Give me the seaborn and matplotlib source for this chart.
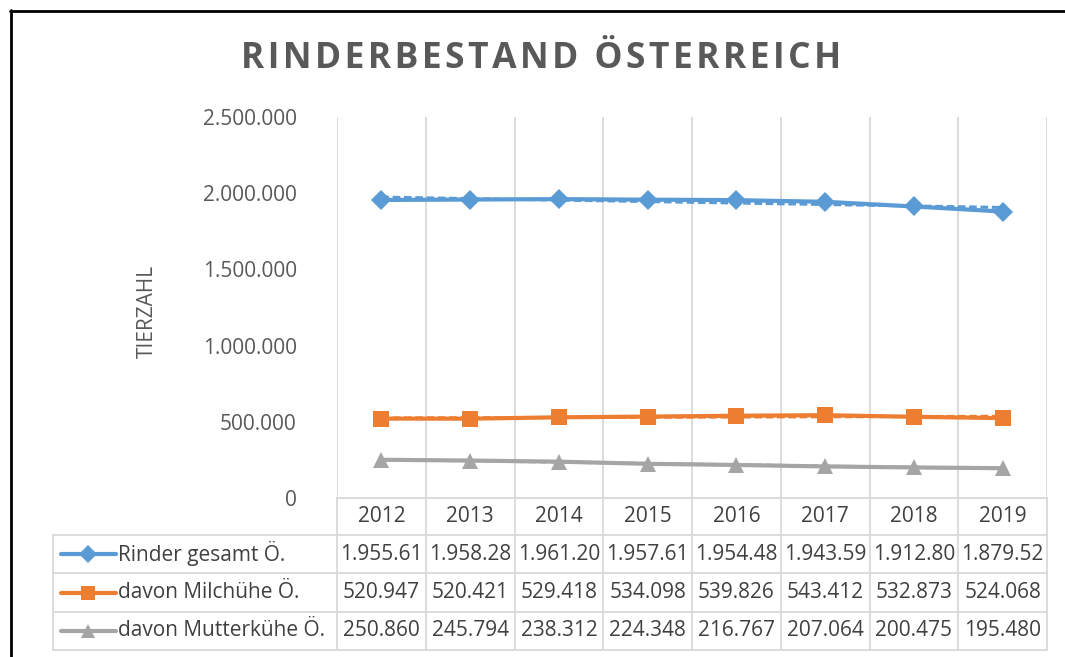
import numpy as np
import pandas as pd
import matplotlib
matplotlib.use("Agg")
import matplotlib.pyplot as plt
import matplotlib.transforms as mtransforms
from matplotlib.lines import Line2D
import seaborn as sns

# -----------------------------
# Data
# -----------------------------
years = [2012, 2013, 2014, 2015, 2016, 2017, 2018, 2019]
rinder_gesamt = [1955610, 1958280, 1961200, 1957610, 1954480, 1943590, 1912800, 1879520]
milchkuehe = [520947, 520421, 529418, 534098, 539826, 543412, 532873, 524068]
mutterkuehe = [250860, 245794, 238312, 224348, 216767, 207064, 200475, 195480]

series_names = ["Rinder gesamt Ö.", "davon Milchühe Ö.", "davon Mutterkühe Ö."]
series_values = [rinder_gesamt, milchkuehe, mutterkuehe]
series_colors = ["#5B9BD5", "#ED7D31", "#A5A5A5"]
series_markers = ["D", "s", "^"]
marker_sizes = [10, 11, 11]

y_ticks = [0, 500000, 1000000, 1500000, 2000000, 2500000]

sns.set_style("white")
plt.rcParams["font.family"] = ["Open Sans", "DejaVu Sans"]

W, H = 1065, 657
fig = plt.figure(figsize=(W / 100, H / 100), dpi=100)

def fx(px):
    return px / W

def fy(px):
    return 1 - px / H

ax = fig.add_axes([fx(337), fy(498), fx(1047) - fx(337), fy(117) - fy(498)])

grid_c = "#D9D9D9"
text_c = "#595959"
cell_c = "#404040"

# vertical gridlines at category borders
for b in np.arange(years[0] - 0.5, years[-1] + 1, 1.0):
    ax.axvline(b, color=grid_c, lw=1.3, zorder=0)

# -----------------------------
# Lines + linear trend lines
# -----------------------------
x = np.array(years, dtype=float)
for name, vals, col, mk, ms in zip(series_names, series_values, series_colors,
                                   series_markers, marker_sizes):
    k, d = np.polyfit(x, vals, 1)
    ax.plot(x, k * x + d, color=col, lw=2.2, ls=(0, (2.5, 1.2)), zorder=2)
    sns.lineplot(x=x, y=vals, ax=ax, color=col, lw=3, marker=mk, markersize=ms,
                 markeredgewidth=0, zorder=3)

ax.set_xlim(years[0] - 0.5, years[-1] + 0.5)
ax.set_ylim(0, 2500000)
ax.set_yticks(y_ticks)
ax.set_yticklabels([f"{v:,}".replace(",", ".") for v in y_ticks],
                   color=text_c, fontsize=15)
ax.tick_params(axis="y", length=0, pad=29)
ax.set_xticks([])
for s in ["top", "right", "left"]:
    ax.spines[s].set_visible(False)
ax.spines["bottom"].set_color(grid_c)
ax.spines["bottom"].set_linewidth(1.3)

fig.text(fx(147), fy(311), "TIERZAHL", rotation=90, ha="center", va="center",
         color=text_c, fontsize=15)

# -----------------------------
# Title
# -----------------------------
title = "RINDERBESTAND ÖSTERREICH"
fig.text(fx(541), fy(59), "\u200a".join(title), ha="center", va="center",
         color=text_c, fontsize=25.5, fontweight="bold")

# -----------------------------
# Data table
# -----------------------------
trans = mtransforms.blended_transform_factory(ax.transData, fig.transFigure)
rows = [498, 535, 573, 612, 650]

def hline(x0, x1, y):
    fig.add_artist(Line2D([x0, x1], [fy(y), fy(y)], color=grid_c, lw=1.3))

for y in rows[1:]:
    hline(fx(53), fx(1047), y)
fig.add_artist(Line2D([fx(53), fx(53)], [fy(535), fy(650)], color=grid_c, lw=1.3))
for b in np.arange(years[0] - 0.5, years[-1] + 1, 1.0):
    fig.add_artist(Line2D([b, b], [fy(498), fy(650)], color=grid_c, lw=1.3,
                          transform=trans))

for yr in years:
    fig.text(yr, fy(517), str(yr), transform=trans, ha="center", va="center",
             color=cell_c, fontsize=15)

for i, (name, vals, col, mk, ms) in enumerate(zip(series_names, series_values,
                                                  series_colors, series_markers,
                                                  marker_sizes)):
    yc = (rows[i + 1] + rows[i + 2]) / 2
    fig.add_artist(Line2D([fx(61), fx(116)], [fy(yc), fy(yc)], color=col, lw=3))
    fig.add_artist(Line2D([fx(88)], [fy(yc)], color=col, marker=mk,
                          markersize=ms - 1, markeredgewidth=0))
    fig.text(fx(118), fy(yc), name, ha="left", va="center", color=cell_c,
             fontsize=15)
    for yr, v in zip(years, vals):
        label = f"{v:,}".replace(",", ".")[:8]
        fig.text(yr, fy(yc), label, transform=trans, ha="center", va="center",
                 color=cell_c, fontsize=15)

# black frame (left / top)
fig.add_artist(Line2D([fx(11), fx(11)], [fy(10), 0], color="black", lw=2))
fig.add_artist(Line2D([fx(10), 1], [fy(11), fy(11)], color="black", lw=2))

plt.savefig("out.png", dpi=100)
plt.close()
